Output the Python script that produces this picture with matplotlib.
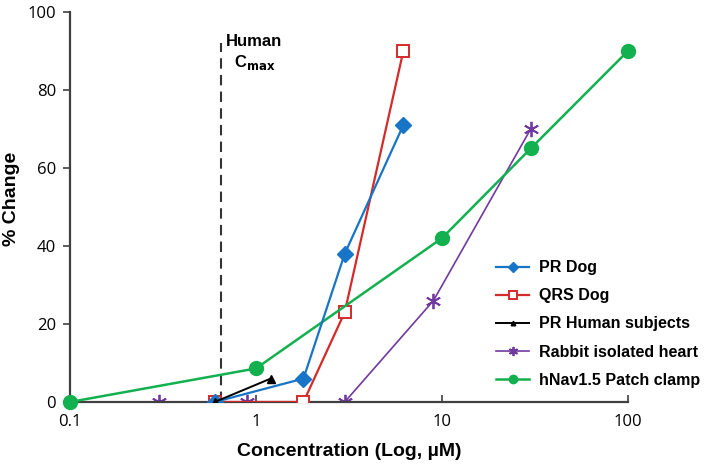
import matplotlib
matplotlib.use("Agg")
import matplotlib.pyplot as plt
from matplotlib.ticker import FixedLocator, NullLocator

# Data
pr_dog_x = [0.6, 1.8, 3.0, 6.2]
pr_dog_y = [0, 6, 38, 71]
qrs_dog_x = [0.6, 1.8, 3.0, 6.2]
qrs_dog_y = [0, 0, 23, 90]
pr_human_x = [0.6, 1.2]
pr_human_y = [0, 6]
rabbit_x = [0.3, 0.6, 0.9, 3.0, 9.0, 30.0]
rabbit_y = [0, 0, 0, 0, 26, 70]
nav_x = [0.1, 1.0, 10.0, 30.0, 100.0]
nav_y = [0, 8.6, 42, 65, 90]
cmax_x = 0.65
cmax_top = 92
x_ticks = [0.1, 1, 10, 100]
x_tick_labels = ["0.1", "1", "10", "100"]
y_ticks = [0, 20, 40, 60, 80, 100]

plt.rcParams['font.family'] = ['Liberation Sans', 'DejaVu Sans']

fig = plt.figure(figsize=(7.09, 4.70), dpi=100)
ax = fig.add_axes([0.0987, 0.1447, 0.7870, 0.8298])

blue = '#1874C6'
red = '#D42A2A'
purple = '#7138A0'
green = '#12B04F'

ax.plot(pr_dog_x, pr_dog_y, color=blue, lw=1.6, marker='D', ms=8.5, mfc=blue, mec=blue,
        label='PR Dog', zorder=4)
ax.plot(qrs_dog_x, qrs_dog_y, color=red, lw=1.6, marker='s', ms=9, mfc='white', mec=red,
        mew=1.4, label='QRS Dog', zorder=3)
ax.plot(pr_human_x, pr_human_y, color='black', lw=1.4, marker='^', ms=5.5, mfc='black',
        mec='black', label='PR Human subjects', zorder=5)
ax.plot(rabbit_x, rabbit_y, color=purple, lw=1.2, marker=(6, 2, 0), ms=11, mec=purple,
        mew=1.3, label='Rabbit isolated heart', zorder=2)
ax.plot(nav_x, nav_y, color=green, lw=1.8, marker='o', ms=10, mfc=green, mec=green,
        label='hNav1.5 Patch clamp', zorder=3, clip_on=False)

ax.plot([cmax_x, cmax_x], [0, cmax_top], color='#333333', lw=1.5, ls=(0, (5, 3)), zorder=1)
ax.text(0.98, 92.5, 'Human', ha='center', va='center', fontsize=12, fontweight='bold')
ax.text(0.98, 87, r'C$_{\mathbf{max}}$', ha='center', va='center', fontsize=12,
        fontweight='bold')

ax.set_xscale('log')
ax.set_xlim(0.1, 100)
ax.set_ylim(0, 100)
ax.xaxis.set_major_locator(FixedLocator(x_ticks))
ax.xaxis.set_minor_locator(NullLocator())
ax.set_xticklabels(x_tick_labels)
ax.set_yticks(y_ticks)

for s in ['top', 'right']:
    ax.spines[s].set_visible(False)
for s in ['left', 'bottom']:
    ax.spines[s].set_color('#404040')
    ax.spines[s].set_linewidth(1.6)
ax.tick_params(axis='y', direction='out', length=5, width=1.2, color='#404040',
               labelsize=12, pad=5)
ax.tick_params(axis='x', direction='in', length=5, width=1.2, color='#404040',
               labelsize=12, pad=9)
for lab in ax.get_xticklabels() + ax.get_yticklabels():
    lab.set_family(['Open Sans', 'DejaVu Sans'])

ax.set_xlabel('Concentration (Log, µM)', fontsize=14, fontweight='bold')
ax.xaxis.set_label_coords(0.5, -0.105)
ax.set_ylabel('% Change', fontsize=14, fontweight='bold', va='center')
ax.yaxis.set_label_coords(-0.104, 0.52)

leg = ax.legend(loc='lower right', bbox_to_anchor=(1.155, 0.0), frameon=False,
                handlelength=2.1, labelspacing=0.82, handletextpad=0.6,
                prop={'weight': 'bold', 'size': 11.5}, markerscale=0.6)

fig.savefig('out.png', dpi=100)
